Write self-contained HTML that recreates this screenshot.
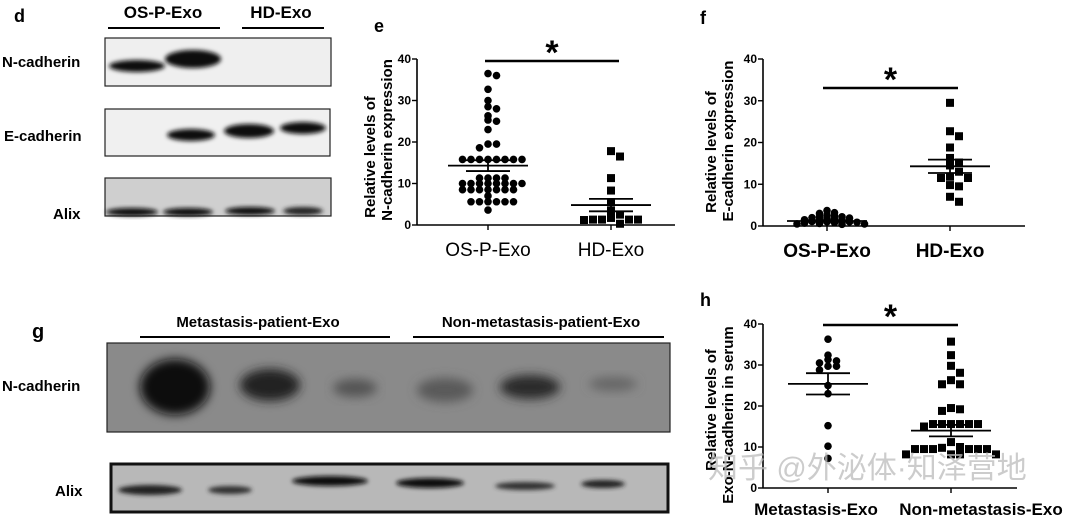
<!DOCTYPE html>
<html><head><meta charset="utf-8">
<style>
html,body{margin:0;padding:0;background:#fff;}
svg{display:block;font-family:"Liberation Sans","Noto Sans CJK SC",sans-serif;}
</style></head>
<body>
<svg id="fig" width="1080" height="521" viewBox="0 0 1080 521" xmlns="http://www.w3.org/2000/svg">
<defs>
<filter id="b2" x="-20%" y="-50%" width="140%" height="200%"><feGaussianBlur stdDeviation="2"/></filter>
<filter id="b4" x="-20%" y="-50%" width="140%" height="200%"><feGaussianBlur stdDeviation="5"/></filter>
</defs>

<!-- Panel d -->
<g>
<text x="14" y="22" font-size="18" font-weight="bold">d</text>
<text x="163" y="18" font-size="17" font-weight="bold" text-anchor="middle">OS-P-Exo</text>
<line x1="108" y1="28" x2="220" y2="28" stroke="#000" stroke-width="2"/>
<text x="281" y="18" font-size="17" font-weight="bold" text-anchor="middle">HD-Exo</text>
<line x1="242" y1="28" x2="324" y2="28" stroke="#000" stroke-width="2"/>
<text x="2" y="67" font-size="15" font-weight="bold">N-cadherin</text>
<text x="4" y="141" font-size="15" font-weight="bold">E-cadherin</text>
<text x="53" y="219" font-size="15" font-weight="bold">Alix</text>
<g>
<rect x="105" y="38" width="226" height="48" fill="#efefef" stroke="#222" stroke-width="1.2"/>
<ellipse cx="137" cy="66" rx="28" ry="6" fill="#111" filter="url(#b2)"/>
<ellipse cx="193" cy="59" rx="28" ry="9" fill="#0a0a0a" filter="url(#b2)"/>
</g>
<g>
<rect x="105" y="109" width="225" height="47" fill="#f0f0f0" stroke="#222" stroke-width="1.2"/>
<ellipse cx="191" cy="135" rx="24" ry="6" fill="#111" filter="url(#b2)"/>
<ellipse cx="249" cy="131" rx="25" ry="7" fill="#111" filter="url(#b2)"/>
<ellipse cx="303" cy="128" rx="23" ry="6" fill="#111" filter="url(#b2)"/>
</g>
<g>
<rect x="105" y="178" width="226" height="38" fill="#cfcfcf" stroke="#222" stroke-width="1.2"/>
<ellipse cx="132" cy="212" rx="26" ry="4" fill="#111" filter="url(#b2)"/>
<ellipse cx="188" cy="212" rx="25" ry="4" fill="#111" filter="url(#b2)"/>
<ellipse cx="250" cy="211" rx="25" ry="4" fill="#111" filter="url(#b2)"/>
<ellipse cx="303" cy="211" rx="20" ry="4" fill="#222" filter="url(#b2)"/>
</g>
</g>

<!-- Panel g -->
<g>
<text x="32" y="338" font-size="20" font-weight="bold">g</text>
<text x="258" y="327" font-size="15" font-weight="bold" text-anchor="middle">Metastasis-patient-Exo</text>
<line x1="140" y1="337" x2="390" y2="337" stroke="#000" stroke-width="2"/>
<text x="541" y="327" font-size="15" font-weight="bold" text-anchor="middle">Non-metastasis-patient-Exo</text>
<line x1="413" y1="337" x2="664" y2="337" stroke="#000" stroke-width="2"/>
<text x="2" y="391" font-size="15" font-weight="bold">N-cadherin</text>
<text x="55" y="496" font-size="15" font-weight="bold">Alix</text>
<g>
<rect x="107" y="343" width="563" height="89" fill="#8a8a8a" stroke="#222" stroke-width="1.2"/>
<ellipse cx="175" cy="387" rx="35" ry="28" fill="#111" filter="url(#b4)"/>
<ellipse cx="270" cy="385" rx="30" ry="16" fill="#222" filter="url(#b4)"/>
<ellipse cx="355" cy="388" rx="22" ry="9" fill="#555" filter="url(#b4)"/>
<ellipse cx="445" cy="390" rx="28" ry="12" fill="#5a5a5a" filter="url(#b4)"/>
<ellipse cx="530" cy="387" rx="30" ry="12" fill="#2a2a2a" filter="url(#b4)"/>
<ellipse cx="613" cy="384" rx="24" ry="7" fill="#666" filter="url(#b4)"/>
</g>
<g>
<rect x="111" y="464" width="557" height="48" fill="#b8b8b8" stroke="#111" stroke-width="3"/>
<ellipse cx="150" cy="490" rx="32" ry="5" fill="#222" filter="url(#b2)"/>
<ellipse cx="230" cy="490" rx="22" ry="4" fill="#333" filter="url(#b2)"/>
<ellipse cx="330" cy="481" rx="38" ry="5" fill="#111" filter="url(#b2)"/>
<ellipse cx="430" cy="483" rx="34" ry="5" fill="#111" filter="url(#b2)"/>
<ellipse cx="525" cy="486" rx="30" ry="4" fill="#333" filter="url(#b2)"/>
<ellipse cx="603" cy="484" rx="22" ry="4" fill="#222" filter="url(#b2)"/>
</g>
</g>

<g id="charts"></g>
<text x="708" y="478" font-size="30" fill="#bbb" fill-opacity="0.75">知乎 @外泌体·知泽营地</text>
</svg>
<script>
// ---- data ----
const eCategories = ["OS-P-Exo", "HD-Exo"];
const eOS = [36.5,36,32.7,30,28.5,28,26.3,25.3,25,23,19.5,19.5,18.6,15.8,15.8,15.8,15.8,15.8,15.8,15.8,15.8,11.3,11.3,11.3,11.3,10,10,10,10,10,10,10,10,8.5,8.5,8.5,8.5,8.5,8.5,8.5,7,5.6,5.6,5.6,5.6,5.6,5.6,3.6];
const eHD = [17.8,16.5,11.3,8.3,5.5,3.5,2.5,1.7,1.3,1.3,1.3,1.3,1.2,0.3];
const eMean = [14.3, 4.8];
const eSem = [1.3, 1.5];

const fCategories = ["OS-P-Exo", "HD-Exo"];
const fOS = [3.7,3.2,3,2.6,2.4,2.2,2.2,2,1.9,1.8,1.6,1.5,1.4,1.2,1.1,1,1,0.9,0.8,0.7,0.6,0.5,0.5,0.4];
const fHD = [29.5,22.7,21.5,18.8,16.3,15.2,14.5,13,11.8,11.5,11.5,9.8,9.5,7,5.8];
const fMean = [1.2, 14.3];
const fSem = [0.2, 1.6];

const hCategories = ["Metastasis-Exo", "Non-metastasis-Exo"];
const hMet = [36.3,32.4,31.3,31,30.5,29.7,29.7,28.8,25,23,15.2,10.2,7.2];
const hNon = [35.7,32.4,29.8,28.1,26.3,25.3,25.3,19.5,19.2,18.8,15.6,15.6,15.6,15.6,15.6,15.6,15,11.2,10,9.8,9.5,9.5,9.5,9.5,9.5,9.5,8.2,8.2,8.2,8.2];
const hMean = [25.4, 14];
const hSem = [2.6, 1.4];

const yTicks = [0, 10, 20, 30, 40];

const NS = "http://www.w3.org/2000/svg";
const root = document.getElementById("charts");
function mk(tag, attrs, parent) {
  const el = document.createElementNS(NS, tag);
  for (const k in attrs) el.setAttribute(k, attrs[k]);
  (parent || root).appendChild(el);
  return el;
}

function drawChart(c) {
  const g = mk("g", {});
  
  
  const yS = v => c.y0 + (c.y40 - c.y0) * v / 40;
  const ya = mk("line", {x1: c.left, y1: c.y40, x2: c.left, y2: c.y0, stroke: "#000", "stroke-width": 1.6}, g);
  
  
  const xa = mk("line", {x1: c.left, y1: c.y0, x2: c.right, y2: c.y0, stroke: "#000", "stroke-width": 1.6}, g);
  
  
  yTicks.forEach(t => {
    const y = yS(t);
    mk("line", {x1: c.left - 5, y1: y, x2: c.left, y2: y, stroke: "#000", "stroke-width": 1.4}, g);
    const tl = mk("text", {x: c.left - 6, y: y + 4, "font-size": 12, "font-weight": "bold", "text-anchor": "end"}, g);
    
    
    tl.textContent = t;
  });
  c.title.forEach((line, i) => {
    const x = c.titleX[i], y = c.titleY[i];
    const tt = mk("text", {x: x, y: y, "font-size": 15, "font-weight": "bold", "text-anchor": "middle", transform: `rotate(-90 ${x} ${y})`}, g);
    
    
    tt.textContent = line;
  });
  c.series.forEach((vals, gi) => {
    const cx = c.centers[gi];
    mk("line", {x1: cx, y1: c.y0, x2: cx, y2: c.y0 + 5, stroke: "#000", "stroke-width": 1.4}, g);
    const cl = mk("text", {x: cx + (c.catDx ? c.catDx[gi] : 0), y: c.catY, "font-size": c.catSize, "font-weight": c.catWeight, "text-anchor": "middle"}, g);
    
    
    cl.textContent = c.categories[gi];
    const placed = [];
    const step = c.step[gi], dyMin = c.dyMin[gi];
    vals.forEach(v => {
      const y = yS(v);
      let dx = 0;
      for (let k = 0; k < 40; k++) {
        const off = (k % 2 ? 1 : -1) * Math.ceil(k / 2) * step;
        if (!placed.some(p => Math.abs(p[0] - (cx + off)) < step - 0.5 && Math.abs(p[1] - y) < dyMin)) { dx = off; break; }
      }
      placed.push([cx + dx, y]);
      let m;
      if (c.shapes[gi] === "sq") m = mk("rect", {x: cx + dx - 4, y: y - 4, width: 8, height: 8, fill: "#000"}, g);
      else m = mk("circle", {cx: cx + dx, cy: y, r: 3.8, fill: "#000"}, g);
      
      
    });
    const mean = c.means[gi], sem = c.sems[gi];
    const ml = mk("line", {x1: cx - 40, y1: yS(mean), x2: cx + 40, y2: yS(mean), stroke: "#000", "stroke-width": 1.8}, g);
    
    
    [mean + sem, mean - sem].forEach(v => {
      const sl = mk("line", {x1: cx - 22, y1: yS(v), x2: cx + 22, y2: yS(v), stroke: "#000", "stroke-width": 1.8}, g);
      
      
    });
    mk("line", {x1: cx, y1: yS(mean + sem), x2: cx, y2: yS(mean - sem), stroke: "#000", "stroke-width": 1.8}, g);
  });
  const sb = mk("line", {x1: c.sig[0], y1: c.sig[2], x2: c.sig[1], y2: c.sig[2], stroke: "#000", "stroke-width": 2.5}, g);
  
  
  const st = mk("text", {x: (c.sig[0] + c.sig[1]) / 2, y: c.sig[2] + 3, "font-size": 34, "font-weight": "bold", "text-anchor": "middle"}, g);
  
  
  st.textContent = "*";
  const pl = mk("text", {x: c.label[1], y: c.label[2], "font-size": 18, "font-weight": "bold"}, g);
  
  
  pl.textContent = c.label[0];
}

drawChart({name: "chart-e", left: 417, right: 675, y0: 225, y40: 59, centers: [488, 611],
  categories: eCategories, series: [eOS, eHD], means: eMean, sems: eSem, shapes: ["c", "sq"],
  step: [8.5, 9], dyMin: [4, 7],
  title: ["Relative levels of", "N-cadherin expression"], titleX: [375, 392], titleY: [157, 140],
  catY: 256, catSize: 19, catWeight: "normal", sig: [485, 619, 61], label: ["e", 374, 32]});
drawChart({name: "chart-f", left: 763, right: 1025, y0: 226, y40: 59, centers: [827, 950],
  categories: fCategories, series: [fOS, fHD], means: fMean, sems: fSem, shapes: ["c", "sq"],
  step: [7.5, 9], dyMin: [3, 7],
  title: ["Relative levels of", "E-cadherin expression"], titleX: [716, 733], titleY: [152, 141],
  catY: 257, catSize: 19, catWeight: "bold", sig: [823, 958, 88], label: ["f", 700, 24]});
drawChart({name: "chart-h", left: 763, right: 1017, y0: 488, y40: 324, centers: [828, 951],
  categories: hCategories, series: [hMet, hNon], means: hMean, sems: hSem, shapes: ["c", "sq"],
  step: [8.5, 9], dyMin: [4, 7],
  title: ["Relative levels of", "Exo-N-cadherin in serum"], titleX: [716, 733], titleY: [410, 415],
  catY: 515, catSize: 17, catWeight: "bold", catDx: [-12, 30], sig: [823, 958, 325], label: ["h", 700, 306]});
</script>
</body></html>
